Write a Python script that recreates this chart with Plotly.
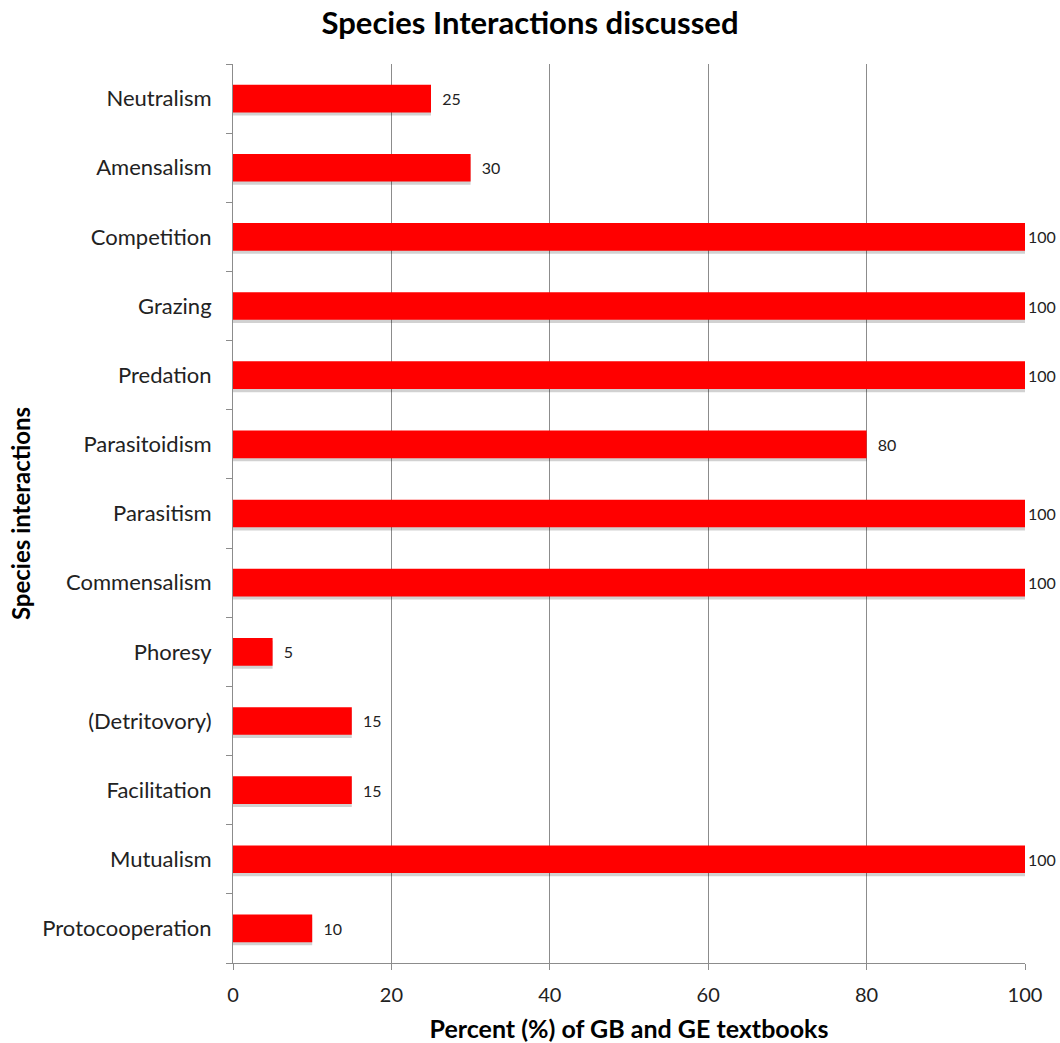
import plotly.graph_objects as go

categories = ["Neutralism", "Amensalism", "Competition", "Grazing", "Predation",
              "Parasitoidism", "Parasitism", "Commensalism", "Phoresy",
              "(Detritovory)", "Facilitation", "Mutualism", "Protocooperation"]
values = [25, 30, 100, 100, 100, 80, 100, 100, 5, 15, 15, 100, 10]
x_ticks = [0, 20, 40, 60, 80, 100]

FONT = "Lato, Open Sans, sans-serif"

labels = [("\u00a0\u00a0" + str(v)) if v < 100 else str(v) for v in values]

fig = go.Figure()
# soft drop shadow under each bar
fig.add_trace(go.Bar(
    x=values, y=categories, orientation="h",
    marker=dict(color="rgba(0,0,0,0.18)", line=dict(width=0)),
    width=0.4, offset=-0.245, hoverinfo="skip",
))
fig.add_trace(go.Bar(
    x=values, y=categories, orientation="h",
    marker=dict(color="#ff0000", line=dict(width=0)),
    width=0.4, offset=-0.2,
    text=labels, textposition="outside",
    textfont=dict(family=FONT, size=16, color="#222222"),
    cliponaxis=False, constraintext="none",
))

fig.update_layout(
    width=1060, height=1043,
    margin=dict(l=233, r=35, t=64, b=80),
    barmode="overlay",
    paper_bgcolor="white", plot_bgcolor="white",
    showlegend=False,
    title=dict(text="<b>Species Interactions discussed</b>", x=0.5, xanchor="center",
               yref="container", y=0.978, yanchor="middle",
               font=dict(family=FONT, size=31, color="black")),
    xaxis=dict(range=[0, 100], tickvals=x_ticks, showgrid=True, gridcolor="#8c8c8c",
               gridwidth=1, showline=True, linecolor="#8c8c8c", ticks="outside",
               ticklen=6, tickcolor="#8c8c8c", zeroline=False, ticklabelstandoff=8,
               automargin=False,
               tickfont=dict(family=FONT, size=20, color="#222222"),
               title=dict(text="<b>Percent (%) of GB and GE textbooks</b>", standoff=15,
                          font=dict(family=FONT, size=25, color="black"))),
    yaxis=dict(categoryorder="array", categoryarray=categories[::-1],
               autorange=False, range=[-0.5, len(categories) - 0.5],
               showline=True, linecolor="#8c8c8c", ticks="outside", tickson="boundaries",
               ticklen=6, tickcolor="#8c8c8c", showgrid=False, ticklabelstandoff=16,
               automargin=False,
               tickfont=dict(family=FONT, size=22, color="#222222"),
               title=dict(text="<b>Species interactions</b>", standoff=4,
                          font=dict(family=FONT, size=24, color="black"))),
)

fig.write_html("out.html", config={"displayModeBar": False},
               post_script="document.body.style.margin='0px';document.body.style.overflow='hidden';")
